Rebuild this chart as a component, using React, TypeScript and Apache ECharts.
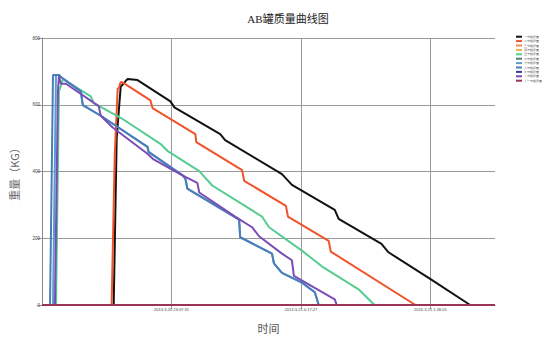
import React, { useEffect, useRef } from "react";
import * as echarts from "echarts";

// x values are in sample-index units along the time axis (0..350)
const seriesNames = [
  "一号罐质量",
  "二号罐质量",
  "三号罐质量",
  "四号罐质量",
  "五号罐质量",
  "六号罐质量",
  "七号罐质量",
  "八号罐质量",
  "九号罐质量",
  "十号罐质量",
  "十一号罐质量",
];

const seriesColors = [
  "#111111",
  "#f0522a",
  "#f08a4b",
  "#e6b04e",
  "#55cc91",
  "#4f7f7f",
  "#5a9ccf",
  "#4a7eb8",
  "#3a3a8c",
  "#7a4cb6",
  "#9c3458",
];

const xTickLabels = ["2013-3-20 23:07:31", "2013-3-21 0:17:27", "2013-3-21 1:28:01"];

const tank1: number[][] = [
  [0, 0], [55.4, 0], [57.7, 500], [60.8, 654], [64.6, 671], [66.2, 677], [73.8, 674],
  [99.2, 610], [102.3, 592], [137.7, 512], [141.5, 494], [185.4, 392], [193.1, 360],
  [226.2, 285], [229.2, 258], [262.3, 183], [267.7, 158], [300.8, 76], [330.8, 0], [350, 0],
];
const tank2: number[][] = [
  [0, 0], [53.8, 0], [56.2, 450], [58.5, 650], [59.2, 648], [60.8, 668], [63.1, 665],
  [83.8, 613], [85.4, 590], [118.5, 512], [119.2, 488], [154.6, 404], [156.2, 372],
  [188.5, 297], [190, 265], [221.5, 192], [223.1, 160], [288.5, 0], [350, 0],
];
const tank3: number[][] = [[0, 0], [350, 0]];
const tank4: number[][] = [[0, 0], [350, 0]];
const tank5: number[][] = [
  [0, 0], [10.8, 0], [13.1, 640], [16.2, 677], [37.7, 625], [40, 605], [60.8, 561],
  [91.5, 483], [96.9, 462], [121.5, 401], [131.5, 358], [170, 265], [175.4, 233],
  [200.8, 163], [216.2, 116], [244.6, 47], [256.9, 0], [350, 0],
];
const tank6: number[][] = [[0, 0], [350, 0]];
const tank8: number[][] = [
  [0, 0], [6.2, 0], [8.5, 689], [9.2, 689], [13.1, 689], [14.6, 683], [30, 640], [31.5, 599],
  [45.4, 567], [81.5, 474], [82.3, 459], [109.2, 387], [110.8, 378], [112.3, 349],
  [152.3, 256], [153.1, 203], [177.7, 154], [179.2, 125], [185.4, 96], [200.8, 67],
  [210.8, 38], [213.8, 0], [350, 0],
];
const tank7: number[][] = [
  [0, 0], [8.5, 0], [10.8, 689], [13.1, 689], [14.6, 683], [30, 640], [31.5, 599],
  [45.4, 567], [81.5, 474], [82.3, 459], [109.2, 387], [110.8, 378], [112.3, 349],
  [152.3, 256], [153.1, 203], [177.7, 154], [179.2, 125], [185.4, 96], [200.8, 67],
  [210.8, 38], [213.8, 0], [350, 0],
];
const tank9: number[][] = [[0, 0], [350, 0]];
const tank10: number[][] = [
  [0, 0], [10, 0], [12.3, 640], [13.1, 686], [14.6, 663], [18.5, 663], [43.8, 596],
  [45.4, 567], [54.6, 532], [81.5, 453], [86.2, 436], [109.2, 387], [120, 366],
  [121.5, 337], [149.2, 265], [162.3, 233], [167.7, 206], [185.4, 154], [193.1, 134],
  [194.6, 87], [226.2, 17], [227.7, 0], [350, 0],
];
const tank11: number[][] = [[0, 0], [350, 0]];

const allData = [tank1, tank2, tank3, tank4, tank5, tank6, tank7, tank8, tank9, tank10, tank11];

export default function App() {
  const ref = useRef<HTMLDivElement>(null);
  useEffect(() => {
    if (!ref.current) return;
    const chart = echarts.init(ref.current, undefined, { renderer: "svg" });
    const gridColor = "#9a9a9a";
    chart.setOption({
      animation: false,
      backgroundColor: "#ffffff",
      title: {
        text: "AB罐质量曲线图",
        left: 283,
        top: 8,
        textAlign: "center",
        textStyle: {
          fontSize: 11,
          fontWeight: "normal",
          color: "#222",
          fontFamily: "'Liberation Serif', 'Noto Sans CJK SC', serif",
        },
      },
      legend: {
        orient: "vertical",
        left: 516,
        top: 35,
        padding: 0,
        itemGap: 1,
        itemWidth: 6,
        itemHeight: 2,
        icon: "rect",
        textStyle: { fontSize: 3.4, lineHeight: 3.4, color: "#555", padding: [0, 0, 0, -3] },
        data: seriesNames,
      },
      grid: { left: 39, top: 38, width: 456, height: 275, containLabel: false },
      xAxis: {
        type: "value",
        min: 0,
        max: 350,
        interval: 100,
        name: "时间",
        nameLocation: "middle",
        nameGap: 17,
        nameTextStyle: { fontSize: 11, color: "#555", fontFamily: "'Noto Sans CJK SC'" },
        axisLine: { show: true, lineStyle: { color: "#888" } },
        axisTick: { show: true, length: 4, lineStyle: { color: gridColor } },
        axisLabel: {
          fontSize: 4,
          color: "#444",
          margin: 2,
          showMinLabel: false,
          showMaxLabel: false,
          formatter: (v: number) => {
            const i = Math.round(v / 100) - 1;
            return v % 100 === 0 && i >= 0 && i < xTickLabels.length ? xTickLabels[i] : "";
          },
        },
        splitLine: {
          show: true,
          lineStyle: { color: [gridColor, gridColor, gridColor, gridColor, "rgba(0,0,0,0)"], width: 1 },
        },
      },
      yAxis: {
        type: "value",
        min: 0,
        max: 800,
        interval: 200,
        name: "重量（KG）",
        nameLocation: "middle",
        nameRotate: 90,
        nameGap: 23,
        nameTextStyle: { fontSize: 11, color: "#666", fontFamily: "'Noto Sans CJK SC'" },
        axisLine: { show: true, lineStyle: { color: "#888" } },
        axisTick: { show: true, length: 5, lineStyle: { color: gridColor } },
        axisLabel: { fontSize: 4.5, color: "#444", margin: 2 },
        splitLine: { show: true, lineStyle: { color: gridColor, width: 1 } },
      },
      series: allData.map((d, i) => ({
        name: seriesNames[i],
        type: "line",
        data: d,
        showSymbol: false,
        symbol: "none",
        color: seriesColors[i],
        lineStyle: { width: 2, color: seriesColors[i] },
      })),
    });
    return () => chart.dispose();
  }, []);
  return (
    <div
      ref={ref}
      style={{ position: "fixed", left: 0, top: 0, width: 551, height: 338 }}
    />
  );
}
